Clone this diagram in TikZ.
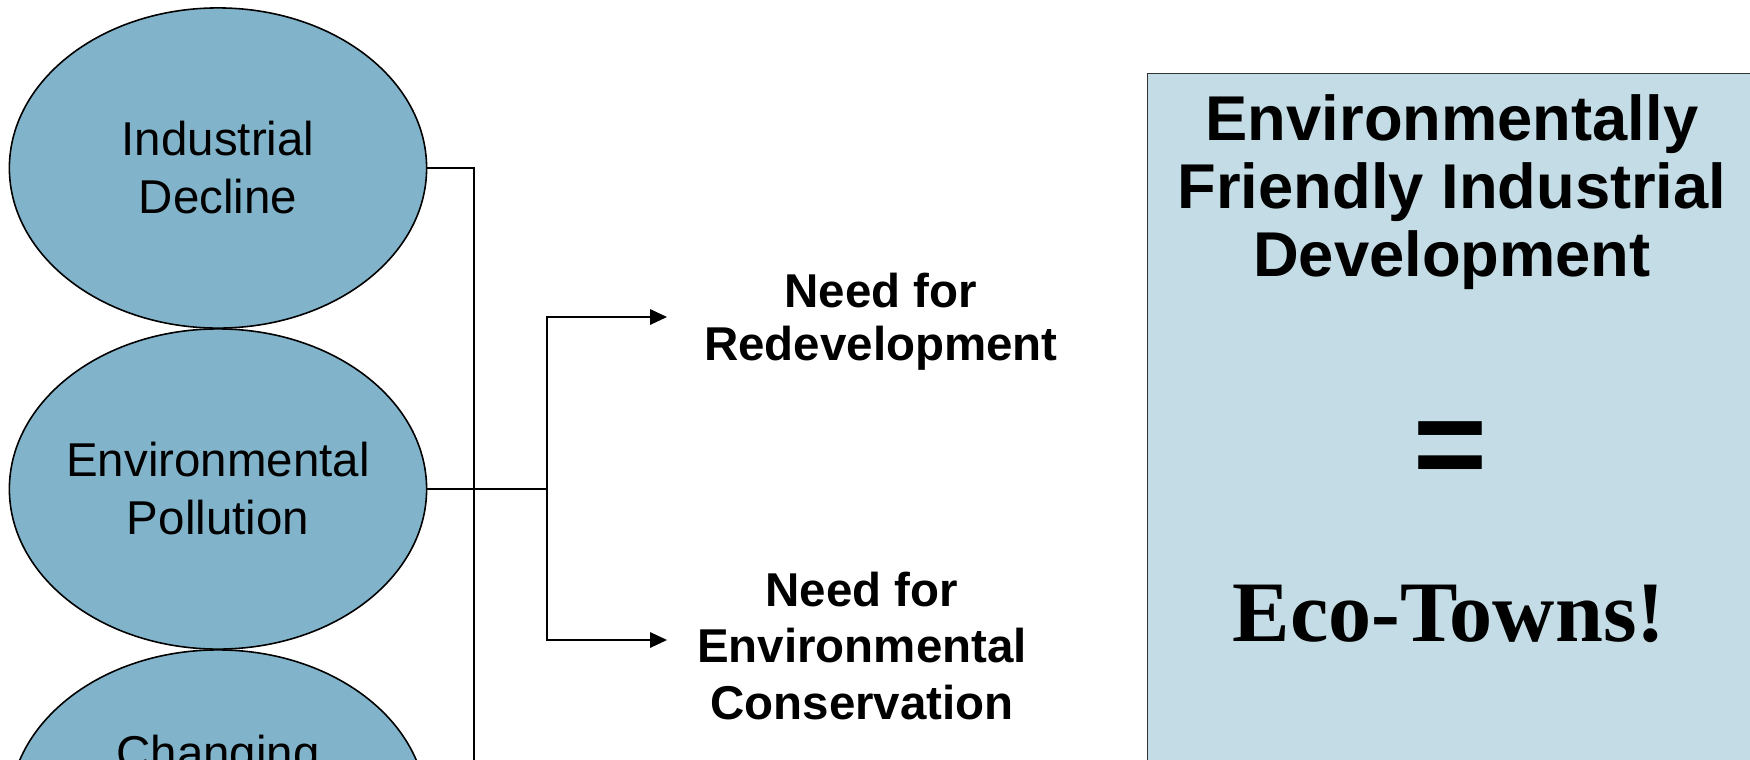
\documentclass[tikz,border=0pt]{standalone}
\usepackage{fontspec}
\setmainfont{Liberation Sans}
\newfontfamily\serifbold{Liberation Serif}
\usetikzlibrary{shapes.geometric,arrows.meta}

\definecolor{causeblue}{RGB}{129,180,202}
\definecolor{boxblue}{RGB}{196,220,229}

\tikzset{
	cause/.style={ellipse, draw=black, line width=0.45pt, fill=causeblue,
		inner xsep=-4mm, inner ysep=0pt,
		minimum width=4.17cm, minimum height=3.2cm, align=center,
		font=\fontsize{13.5}{16.5}\selectfont},
	need/.style={align=center, font=\bfseries\fontsize{13.5}{15}\selectfont},
	link/.style={line width=0.4pt},
	tip/.style={link, -{Triangle[length=4.8pt,width=4.4pt]}}
}

\begin{document}
\begin{tikzpicture}[x=0.01cm,y=-0.01cm]

	\clip (0,0) rectangle (1750,760);
	\fill[white] (0,0) rectangle (1750,760);

	% causes
	\node 	(e1)	at	(218,168)	[cause]	{Industrial\\Decline};
	\node 	(e2)	at	(218,489)	[cause]	{Environmental\\Pollution};
	\node 	(e3)	at	(218,810)	[cause]	{};
	\node 	(c3)	at	(218,757)	[font=\fontsize{13.5}{16.5}\selectfont]	{Changing};

	% needs
	\node 	(r1)	at	(881,322)	[need]	{Need for\\Redevelopment};
	\node 	(r2)	at	(862,646)	[need, font=\bfseries\fontsize{13.5}{16}\selectfont]	{Need for\\Environmental\\Conservation};

	% result box
	\node 	(box)	at	(1147,73)	[anchor=north west, draw=black!80, line width=0.4pt, fill=boxblue,
		minimum width=6.3cm, minimum height=7.2cm]	{};
	\node 	(title)	at	(1452,192)	[align=center, font=\bfseries\fontsize{18}{19.3}\selectfont]
		{Environmentally\\Friendly Industrial\\Development};
	\node 	(eq)	at	(1450,455)	[font=\bfseries\fontsize{36}{38}\selectfont]	{=};
	\node 	(eco)	at	(1449,614)	[font=\serifbold\bfseries\fontsize{24.5}{26}\selectfont]	{Eco-Towns!};

	\coordinate	(j1)	at	(474,168);
	\coordinate	(j2)	at	(547,489);
	\coordinate	(t1)	at	(667,317);
	\coordinate	(t2)	at	(667,640);

	\draw[link]	(e1.east)	--	(j1)	--	(j1 |- e3.east)	--	(e3.east);
	\draw[link]	(e2.east)	--	(j2);
	\draw[tip]	(j2)	|-	(t1);
	\draw[tip]	(j2)	|-	(t2);

\end{tikzpicture}
\end{document}
